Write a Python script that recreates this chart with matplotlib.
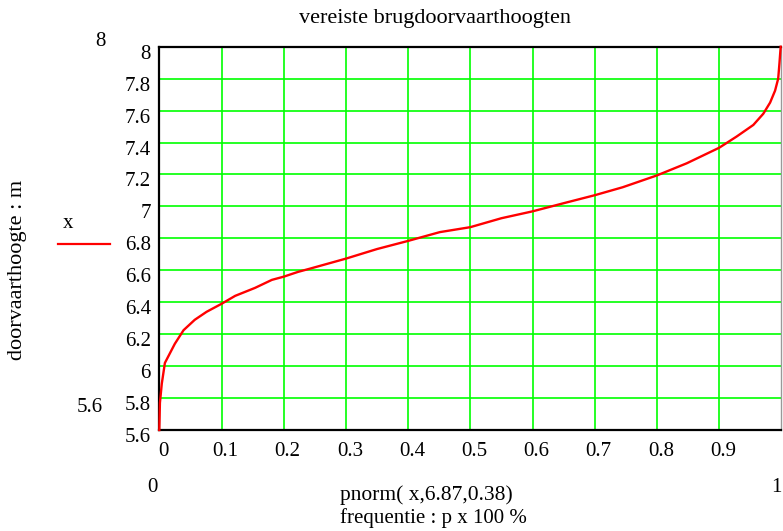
import matplotlib

matplotlib.use("Agg")
import matplotlib.pyplot as plt
from matplotlib.transforms import ScaledTranslation

# curve: probability pnorm(x, 6.87, 0.38) against height x (m)
p_values = [0.0, 0.001, 0.004, 0.009, 0.017, 0.025, 0.039, 0.057, 0.076, 0.100,
            0.122, 0.154, 0.181, 0.200, 0.223, 0.242, 0.300, 0.350, 0.400, 0.451,
            0.500, 0.550, 0.600, 0.652, 0.700, 0.745, 0.800, 0.848, 0.900, 0.928,
            0.955, 0.971, 0.982, 0.990, 0.995, 0.997, 0.999]
heights = [5.60, 5.77, 5.89, 6.02, 6.08, 6.14, 6.225, 6.29, 6.34, 6.39,
           6.44, 6.49, 6.54, 6.56, 6.59, 6.61, 6.673, 6.733, 6.784, 6.839,
           6.870, 6.926, 6.969, 7.022, 7.070, 7.12, 7.194, 7.27, 7.367, 7.437,
           7.51, 7.58, 7.65, 7.725, 7.80, 7.895, 8.00]

x_ticks = [0, 0.1, 0.2, 0.3, 0.4, 0.5, 0.6, 0.7, 0.8, 0.9]
x_tick_labels = ["0", "0.1", "0.2", "0.3", "0.4", "0.5", "0.6", "0.7", "0.8", "0.9"]
y_ticks = [5.6, 5.8, 6.0, 6.2, 6.4, 6.6, 6.8, 7.0, 7.2, 7.4, 7.6, 7.8, 8.0]
y_tick_labels = ["5.6", "5.8", "6", "6.2", "6.4", "6.6", "6.8", "7", "7.2", "7.4", "7.6", "7.8", "8"]

W, H = 783, 531
plt.rcParams["font.family"] = ["Liberation Serif", "DejaVu Serif"]
FS = 15

fig = plt.figure(figsize=(W / 100, H / 100), dpi=100)
ax = fig.add_axes([159.3 / W, 1 - 430 / H, 622 / W, 383.3 / H])


def px(x, y):
    return x / W, 1 - y / H


ax.plot(p_values, heights, color="#ff0000", linewidth=1.7, zorder=3, clip_on=False)
ax.set_xlim(0, 1)
ax.set_ylim(5.6, 8)

ax.set_xticks(x_ticks)
ax.set_xticklabels(x_tick_labels, fontsize=FS)
ax.set_yticks(y_ticks)
ax.set_yticklabels(y_tick_labels, fontsize=FS)
ax.tick_params(axis="both", length=0)
ax.tick_params(axis="x", pad=9)
ax.tick_params(axis="y", pad=6)
for label in ax.get_xticklabels():
    label.set_transform(label.get_transform() + ScaledTranslation(0.04, 0, fig.dpi_scale_trans))
for label in ax.get_yticklabels():
    label.set_transform(label.get_transform() + ScaledTranslation(0, -0.05, fig.dpi_scale_trans))

ax.grid(True, color="#00ff00", linewidth=1.2, zorder=1)
ax.set_axisbelow(True)

for side in ("left", "bottom", "top"):
    ax.spines[side].set_color("black")
    ax.spines[side].set_linewidth(1.6)
ax.spines["right"].set_color("#999999")
ax.spines["right"].set_linewidth(1.0)

# Mathcad-style limit labels and captions
fig.text(*px(435, 19), "vereiste brugdoorvaarthoogten", fontsize=16, ha="center", va="center")
fig.text(*px(100, 42), "8", fontsize=FS, ha="center", va="center")
fig.text(*px(103, 407), "5.6", fontsize=FS, ha="right", va="center")
fig.text(*px(152, 487), "0", fontsize=FS, ha="center", va="center")
fig.text(*px(782, 487), "1", fontsize=FS, ha="right", va="center")
fig.text(*px(340, 495), "pnorm( x,6.87,0.38)", fontsize=15.5, ha="left", va="center")
fig.text(*px(340, 518), "frequentie : p x 100 %", fontsize=FS, ha="left", va="center")
fig.text(*px(18, 270), "doorvaarthoogte : m", fontsize=16, ha="center", va="center", rotation=90)

# legend: series name above a short red sample line
fig.text(*px(68, 224), "x", fontsize=FS, ha="center", va="center")
fig.add_artist(plt.Line2D([58 / W, 110 / W], [1 - 244 / H] * 2, color="#ff0000", linewidth=1.6))

fig.savefig("out.png", dpi=100)
